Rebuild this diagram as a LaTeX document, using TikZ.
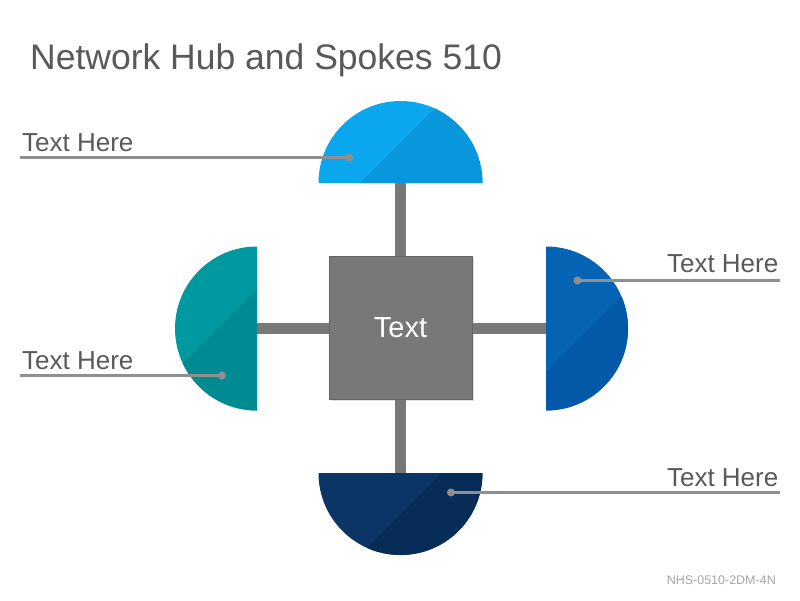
\documentclass[tikz,border=0pt]{standalone}
\usepackage{fontspec}
\setmainfont{Liberation Sans}
\definecolor{titlegray}{HTML}{595959}
\definecolor{linegray}{HTML}{8F8F8F}
\definecolor{hubgray}{HTML}{787878}
\definecolor{hubedge}{HTML}{666666}
\definecolor{footgray}{HTML}{A6A6A6}
\definecolor{topA}{HTML}{0AA6EE}
\definecolor{topB}{HTML}{0896DC}
\definecolor{leftA}{HTML}{00999F}
\definecolor{leftB}{HTML}{008A92}
\definecolor{rightA}{HTML}{0563B4}
\definecolor{rightB}{HTML}{0359A7}
\definecolor{botA}{HTML}{0B3565}
\definecolor{botB}{HTML}{072C57}
\tikzset{
  lbl/.style={text=titlegray, font=\fontsize{26}{26}\selectfont, inner sep=0pt},
  callout/.style={draw=linegray, line width=2.5pt},
  dotmark/.style={fill=linegray},
  bar/.style={draw=hubgray, line width=11pt},
  hubbox/.style={rectangle, fill=hubgray, draw=hubedge, line width=0.75pt, minimum width=143pt, minimum height=143pt, text=white, font=\fontsize{29}{29}\selectfont}
}
\begin{document}
\begin{tikzpicture}[x=1pt,y=-1pt]
\useasboundingbox (0,0) rectangle (800,600);
\fill[white] (0,0) rectangle (800,600);
% title
\node[anchor=base west, text=titlegray, font=\fontsize{35.5}{35.5}\selectfont, inner sep=0pt] (title) at (30,69.3) {Network Hub and Spokes 510};
% spoke anchor coordinates
\coordinate (ctop) at (400.5,183);
\coordinate (cbot) at (400.5,473);
\coordinate (cleft) at (257,328.5);
\coordinate (cright) at (546,328.5);
% hub shadow + bars
\fill[black!12] (330.5,257.5) rectangle (474,401);
\draw[bar] (ctop) -- (400.5,257);
\draw[bar] (cbot) -- (400.5,399);
\draw[bar] (cleft) -- (329,328.5);
\draw[bar] (cright) -- (472,328.5);
\node[hubbox] (hub) at (400.5,328) {Text};
% top semicircle
\begin{scope}
  \fill[topA] (318.5,183) arc (180:360:82) -- cycle;
  \clip (318.5,183) arc (180:360:82) -- cycle;
  \fill[topB] (360,183) ++(-200,200) -- ++(400,-400) -- ++(300,300) -- ++(-400,400) -- cycle;
\end{scope}
% bottom semicircle
\begin{scope}
  \fill[botA] (318.5,473) arc (180:0:82) -- cycle;
  \clip (318.5,473) arc (180:0:82) -- cycle;
  \fill[botB] (404,510.5) ++(-200,200) -- ++(400,-400) -- ++(300,300) -- ++(-400,400) -- cycle;
\end{scope}
% left semicircle
\begin{scope}
  \fill[leftA] (257,246.5) arc (270:90:82) -- cycle;
  \clip (257,246.5) arc (270:90:82) -- cycle;
  \fill[leftB] (212,334) ++(-200,200) -- ++(400,-400) -- ++(300,300) -- ++(-400,400) -- cycle;
\end{scope}
% right semicircle
\begin{scope}
  \fill[rightA] (546,246.5) arc (-90:90:82) -- cycle;
  \clip (546,246.5) arc (-90:90:82) -- cycle;
  \fill[rightB] (578,340) ++(-200,200) -- ++(400,-400) -- ++(300,300) -- ++(-400,400) -- cycle;
\end{scope}
% callouts
\coordinate (d1) at (349,157.5);
\coordinate (e1) at (20,157.5);
\coordinate (d2) at (222,375.5);
\coordinate (e2) at (20,375.5);
\coordinate (d3) at (577.5,280.5);
\coordinate (e3) at (780,280.5);
\coordinate (d4) at (451,492.5);
\coordinate (e4) at (780,492.5);
\draw[callout] (e1) -- (d1);
\draw[callout] (e2) -- (d2);
\draw[callout] (d3) -- (e3);
\draw[callout] (d4) -- (e4);
\fill[dotmark] (d1) circle (4);
\fill[dotmark] (d2) circle (4);
\fill[dotmark] (d3) circle (4);
\fill[dotmark] (d4) circle (4);
\node[lbl, anchor=base west] (t1) at (22,151.5) {Text Here};
\node[lbl, anchor=base west] (t2) at (22,369) {Text Here};
\node[lbl, anchor=base east] (t3) at (778.5,272.5) {Text Here};
\node[lbl, anchor=base east] (t4) at (778.5,486.5) {Text Here};
% footer
\node[anchor=base east, text=footgray, font=\fontsize{12.5}{12.5}\selectfont, inner sep=0pt] (foot) at (776,584) {NHS-0510-2DM-4N};
\end{tikzpicture}
\end{document}
